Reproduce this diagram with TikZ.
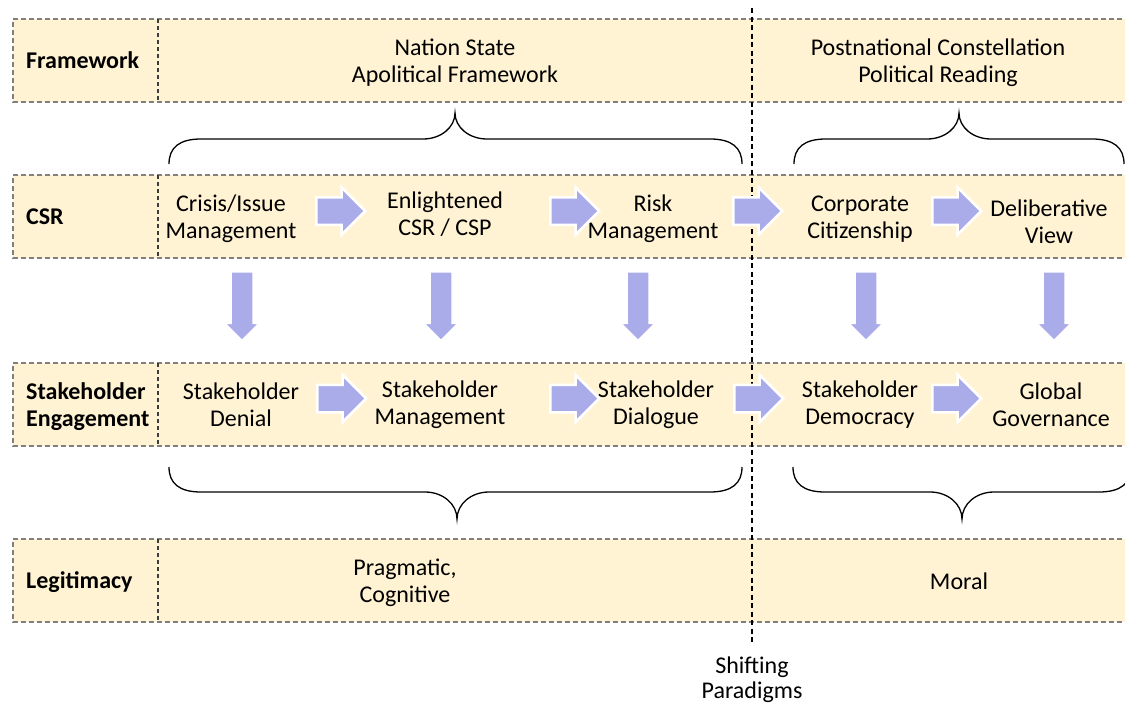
\documentclass[tikz,border=0pt]{standalone}
\usepackage{fontspec}
\setmainfont{Carlito}
\usetikzlibrary{shapes.arrows}

\definecolor{rowfill}{RGB}{255,243,212}
\definecolor{rowedge}{RGB}{128,128,128}
\definecolor{celledge}{RGB}{60,60,60}
\definecolor{blockarrow}{RGB}{170,171,233}

\tikzset{
  txt/.style={align=center, inner sep=0pt, font=\fontsize{24}{27}\selectfont},
  lbl/.style={align=left, anchor=west, inner sep=0pt, font=\bfseries\fontsize{24}{27}\selectfont},
  rowline/.style={draw=rowedge, line width=1.5pt, dash pattern=on 5pt off 3pt},
  cellline/.style={draw=celledge, line width=1.2pt, dash pattern=on 4pt off 3pt},
  paradigm/.style={draw=black, line width=1.3pt, dash pattern=on 5pt off 3.5pt},
  bracestyle/.style={draw=black, line width=1.3pt},
  rarrow/.style={single arrow, anchor=tail, fill=blockarrow, draw=white, line width=2.5pt,
    inner xsep=0pt, inner ysep=12.5pt, single arrow head extend=10pt,
    minimum height=49pt},
  darrow/.style={single arrow, anchor=tail, rotate=-90, fill=blockarrow, draw=white, line width=2.5pt,
    inner xsep=0pt, inner ysep=10.25pt, single arrow head extend=7pt,
    minimum height=70pt}
}

% curly brace: left x, right x, tip x, end y, bar y, tip y
\newcommand\spanbrace[6]{%
  \draw[bracestyle] (#1,#4)
    .. controls (#1,{#5+0.35*(#4-#5)}) and ({#1+10},#5) .. ({#1+32},#5)
    -- ({#3-32},#5)
    .. controls ({#3-14},#5) and (#3,{#5+0.45*(#6-#5)}) .. (#3,#6)
    .. controls (#3,{#5+0.45*(#6-#5)}) and ({#3+14},#5) .. ({#3+32},#5)
    -- ({#2-32},#5)
    .. controls ({#2-10},#5) and (#2,{#5+0.35*(#4-#5)}) .. (#2,#4);
}

% one band of the table: top y, bottom y
\newcommand\band[2]{%
  \fill[rowfill] (13,#1) rectangle (1130,#2);
  \draw[rowline] (1130,#1) -- (13,#1) -- (13,#2) -- (1130,#2);
  \draw[cellline] (158,#1) -- (158,#2);
}

\begin{document}
\begin{tikzpicture}[x=1pt, y=-1pt]
\useasboundingbox (0,0) rectangle (1125,704);

% bands
\band{19}{102}
\band{175}{258}
\band{363}{446}
\band{539}{622}

% shifting paradigms divider
\coordinate (shiftTop) at (752,8);
\coordinate (shiftBot) at (752,642);
\draw[paradigm] (shiftTop) -- (shiftBot);
\node[txt, font=\fontsize{24}{25}\selectfont] (shift) at (752,679.5) {Shifting\\Paradigms};

% row labels
\node[lbl] (fwLabel)  at (26,60)  {Framework};
\node[lbl] (csrLabel) at (26,216.5) {CSR};
\node[lbl] (shLabel)  at (26,406.5) {Stakeholder\\Engagement};
\node[lbl] (legLabel) at (26,582) {Legitimacy};

% framework row
\node[txt] (fwLeft)  at (455,62.5) {Nation State\\Apolitical Framework};
\node[txt] (fwRight) at (938,62.5) {Postnational Constellation\\Political Reading};

% CSR row
\node[txt] (csr1) at (231,219)  {Crisis/Issue\\Management};
\node[txt] (csr2) at (445,214.5)  {Enlightened\\CSR / CSP};
\node[txt] (csr3) at (653,218.5)    {Risk\\Management};
\node[txt] (csr4) at (860,219.5)  {Corporate\\Citizenship};
\node[txt] (csr5) at (1049,221.5) {Deliberative\\View};

% stakeholder engagement row
\node[txt] (sh1) at (241,405)  {Stakeholder\\Denial};
\node[txt] (sh2) at (440,405)  {Stakeholder\\Management};
\node[txt] (sh3) at (656,405)  {Stakeholder\\Dialogue};
\node[txt] (sh4) at (860,405)  {Stakeholder\\Democracy};
\node[txt] (sh5) at (1051,405) {Global\\Governance};

% legitimacy row
\node[txt] (legLeft)  at (405,583) {Pragmatic,\\Cognitive};
\node[txt] (legRight) at (959,581) {Moral};

% block arrows along the CSR row
\node[rarrow] (ca1) at (315,211) {};
\node[rarrow] (ca2) at (549,211) {};
\node[rarrow] (ca3) at (732,211) {};
\node[rarrow] (ca4) at (931,211) {};

% block arrows along the stakeholder row
\node[rarrow] (sa1) at (316,398.5) {};
\node[rarrow] (sa2) at (549,398.5) {};
\node[rarrow] (sa3) at (733,398.5) {};
\node[rarrow] (sa4) at (931,398.5) {};

% downward block arrows between the rows
\node[darrow] (da1) at (242,270) {};
\node[darrow] (da2) at (441,270) {};
\node[darrow] (da3) at (638,270) {};
\node[darrow] (da4) at (866,270) {};
\node[darrow] (da5) at (1054,270) {};

% braces
\spanbrace{169}{742}{455}{164}{139}{113}
\spanbrace{794}{1124}{959}{164}{139}{113}
\spanbrace{169}{742}{457}{467}{492}{519}
\spanbrace{793}{1131}{962}{467}{492}{519}

\end{tikzpicture}
\end{document}
